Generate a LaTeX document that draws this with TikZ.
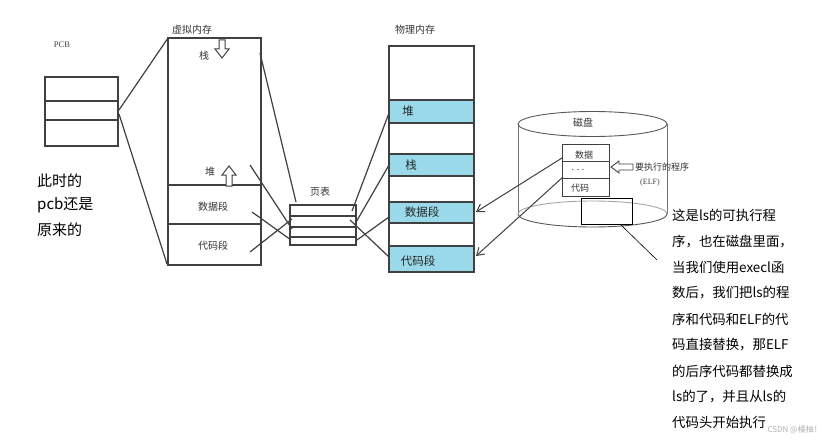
\documentclass[tikz,border=0pt]{standalone}
\usepackage{fontspec}
\setmainfont{Liberation Serif}
\newfontfamily\cjk{Noto Sans CJK SC}
\usetikzlibrary{arrows.meta}
\definecolor{cyanblk}{RGB}{153,217,234}
\begin{document}
\begin{tikzpicture}[x=1pt,y=-1pt,
  sk/.style={draw=black!75, line width=1.2pt},
  thin/.style={draw=black!75, line width=0.9pt},
  lbl/.style={font=\cjk\fontsize{10}{12}\selectfont, text=black!80, inner sep=0},
  plbl/.style={font=\cjk\fontsize{11.5}{13}\selectfont, text=black!85, inner sep=0},
  dlbl/.style={font=\cjk\fontsize{9}{11}\selectfont, text=black!80, inner sep=0},
  note/.style={font=\cjk\fontsize{13.4}{15}\selectfont, text=black, inner sep=0, anchor=west},
  lnote/.style={font=\cjk\fontsize{15}{17}\selectfont, text=black, inner sep=0, anchor=west},
  hollow/.style={draw=black!75, line width=1pt, fill=white}]
\useasboundingbox (0,0) rectangle (826,441);
\fill[white] (0,0) rectangle (826,441);

% ---------- PCB ----------
\node[font=\fontsize{8.5}{10}\selectfont, text=black!75, inner sep=0] (pcblbl) at (62,45) {PCB};
\draw[sk] (45,77) rectangle (118,146);
\draw[sk] (45,101) -- (118,101);
\draw[sk] (45,120) -- (118,120);
\coordinate (pcbA) at (119,110);
\coordinate (pcbB) at (119,114);

% ---------- virtual memory ----------
\node[lbl] (vmlbl) at (192,30) {虚拟内存};
\draw[sk] (168,38) rectangle (261,265);
\draw[sk] (168,185) -- (261,185);
\draw[sk] (168,224) -- (261,224);
\coordinate (vmTL) at (168,38);
\coordinate (vmBL) at (167,264);
\node[lbl] (vstack) at (204,56) {栈};
\node[lbl] (vheap) at (210,172) {堆};
\node[lbl] (vdata) at (213,207) {数据段};
\node[lbl] (vcode) at (213,246) {代码段};
% down arrow
\draw[hollow] (219,40) -- (225,40) -- (225,49) -- (229,49) -- (222,58) -- (215,49) -- (219,49) -- cycle;
% up arrow
\draw[hollow] (226,186) -- (232,186) -- (232,175) -- (236,175) -- (229,166) -- (222,175) -- (226,175) -- cycle;

\draw[sk] (pcbA) -- (vmTL);
\draw[sk] (pcbB) -- (vmBL);

% ---------- page table ----------
\node[lbl] (ptlbl) at (320,192) {页表};
\draw[sk] (290,205) rectangle (356,245);
\draw[sk] (290,216) -- (356,216);
\draw[sk] (290,227) -- (356,227);
\draw[sk] (290,237) -- (356,237);

\coordinate (v1) at (260,53);   \coordinate (p1) at (296,202);
\coordinate (v2) at (250,165);  \coordinate (p2) at (292,229);
\coordinate (v3) at (252,212);  \coordinate (p3) at (291,240);
\coordinate (v4) at (250,252);  \coordinate (p4) at (292,219);
\draw[sk] (v1) -- (p1);
\draw[sk] (v2) -- (p2);
\draw[sk] (v3) -- (p3);
\draw[sk] (v4) -- (p4);

% ---------- physical memory ----------
\node[lbl] (pmlbl) at (415,30) {物理内存};
\fill[cyanblk] (389,100) rectangle (474,123);
\fill[cyanblk] (389,154) rectangle (474,176);
\fill[cyanblk] (389,202) rectangle (474,223);
\fill[cyanblk] (389,246) rectangle (474,272);
\draw[sk] (389,46) rectangle (474,272);
\foreach \yy in {100,123,154,176,202,223,246} {\draw[sk] (389,\yy) -- (474,\yy);}
\node[plbl] (pheap) at (408,111) {堆};
\node[plbl] (pstack) at (411,165) {栈};
\node[plbl] (pdata) at (422,212) {数据段};
\node[plbl] (pcode) at (418,261) {代码段};

\coordinate (q1) at (352,211); \coordinate (m1) at (389,113);
\coordinate (q2) at (355,224); \coordinate (m2) at (389,165);
\coordinate (q3) at (357,240); \coordinate (m3) at (389,217);
\coordinate (q4) at (350,220); \coordinate (m4) at (389,257);
\draw[sk] (q1) -- (m1);
\draw[sk] (q2) -- (m2);
\draw[sk] (q3) -- (m3);
\draw[sk] (q4) -- (m4);

% ---------- disk ----------
\draw[thin, draw=black!55] (518,124) -- (518,214);
\draw[thin, draw=black!55] (667,124) -- (667,214);
\draw[thin, draw=black!65] (592.5,124) ellipse [x radius=74.5, y radius=12.5];
\draw[thin, draw=black!65] (518,214) arc[start angle=180, end angle=360, x radius=74.5, y radius=-13];
\draw[thin, draw=black!35] (518,214) arc[start angle=180, end angle=0, x radius=74.5, y radius=-13];
\node[lbl] (disklbl) at (583,123) {磁盘};

\draw[sk, line width=1pt] (562,144) rectangle (609,196);
\draw[sk, line width=1pt] (562,161) -- (609,161);
\draw[sk, line width=1pt] (562,178) -- (609,178);
\node[dlbl] (ddata) at (584,155) {数据};
\node[dlbl] (ddots) at (578,170) {. . .};
\node[dlbl] (dcode) at (580,188) {代码};
% left hollow arrow
\draw[hollow, line width=0.9pt] (611,167) -- (619,161) -- (619,164) -- (633,164) -- (633,170) -- (619,170) -- (619,173) -- cycle;
\node[dlbl, anchor=west] (exelbl) at (635,167) {要执行的程序};
\node[font=\fontsize{8}{9}\selectfont, text=black!75, inner sep=0] (elflbl) at (650,183) {(ELF)};

\draw[black, line width=0.8pt] (581,198) rectangle (632,224);
\coordinate (lsbox) at (620,224);
\coordinate (lsnote) at (657,260);
\draw[black, line width=0.6pt] (lsbox) -- (lsnote);

\coordinate (d1) at (562,158); \coordinate (t1) at (476,212);
\coordinate (d2) at (563,177); \coordinate (t2) at (476,256);
\draw[sk, line width=1pt, -{Straight Barb[length=7pt,width=9pt]}] (d1) -- (t1);
\draw[sk, line width=1pt, -{Straight Barb[length=7pt,width=9pt]}] (d2) -- (t2);

% ---------- notes ----------
\node[lnote] (ln1) at (37,181) {此时的};
\node[lnote] (ln2) at (37,205) {pcb还是};
\node[lnote] (ln3) at (37,230) {原来的};

\node[note] (n1) at (672,215) {这是ls的可执行程};
\node[note] (n2) at (672,242) {序，也在磁盘里面，};
\node[note] (n3) at (672,267) {当我们使用execl函};
\node[note] (n4) at (672,293) {数后，我们把ls的程};
\node[note] (n5) at (672,319) {序和代码和ELF的代};
\node[note] (n6) at (672,345) {码直接替换，那ELF};
\node[note] (n7) at (672,371) {的后序代码都替换成};
\node[note] (n8) at (672,397) {ls的了，并且从ls的};
\node[note] (n9) at (672,422) {代码头开始执行};
\node[font=\cjk\fontsize{8}{10}\selectfont, text=black!30, inner sep=0, anchor=east] (wm) at (822,430) {CSDN @橘柚！};
\end{tikzpicture}
\end{document}
